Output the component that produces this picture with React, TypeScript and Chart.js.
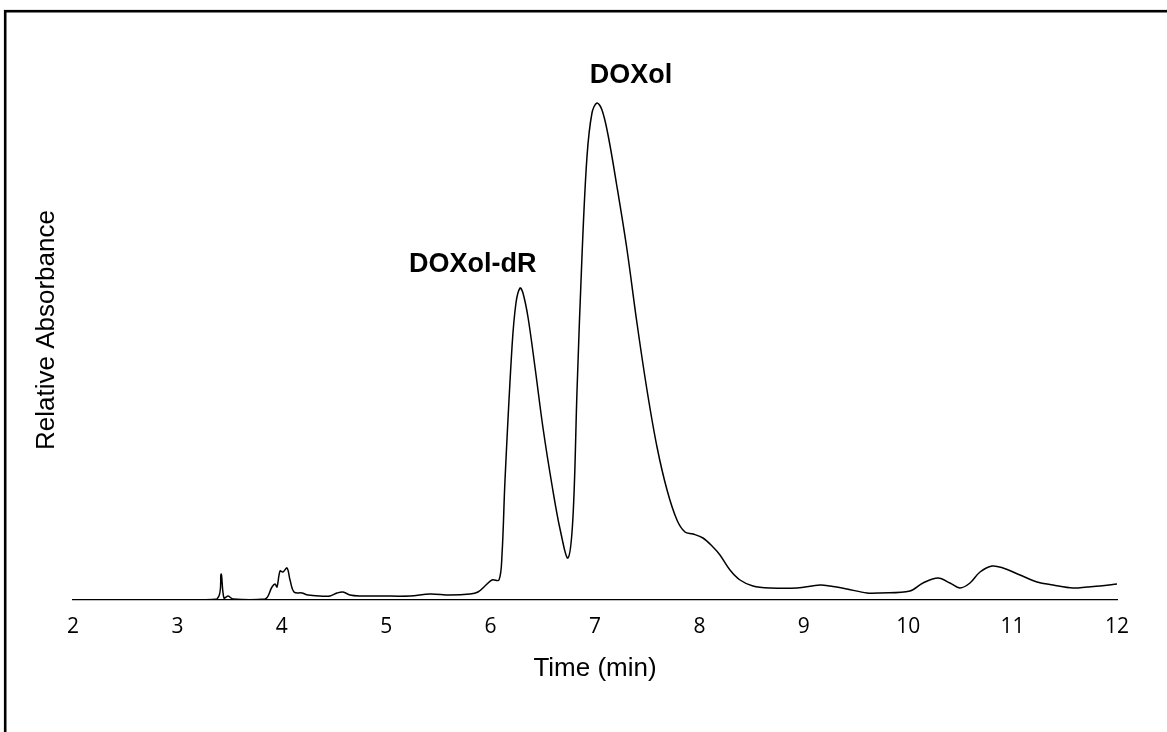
import React, { useEffect, useRef } from "react";
import { Chart, registerables } from "chart.js";

Chart.register(...registerables);

// Retention time (min)
const times: number[] = [
  2.0, 3.025, 3.379, 3.418, 3.446, 3.485, 3.533, 3.839, 3.906, 3.935, 3.954, 3.983,
  4.011, 4.05, 4.079, 4.117, 4.193, 4.251, 4.366, 4.462, 4.529, 4.586, 4.653, 4.749,
  4.941, 5.228, 5.42, 5.611, 5.803, 5.879, 5.946, 6.013, 6.08, 6.109, 6.138, 6.205,
  6.243, 6.282, 6.31, 6.358, 6.425, 6.502, 6.588, 6.665, 6.741, 6.789, 6.828, 6.875,
  6.923, 6.971, 7.019, 7.067, 7.125, 7.211, 7.307, 7.402, 7.498, 7.594, 7.69, 7.785,
  7.862, 7.939, 8.034, 8.13, 8.197, 8.293, 8.389, 8.513, 8.676, 8.935, 9.155, 9.251,
  9.414, 9.605, 9.73, 10.017, 10.142, 10.286, 10.4, 10.496, 10.592, 10.688, 10.803,
  10.908, 11.071, 11.234, 11.387, 11.579, 11.713, 11.837, 12.0,
];

// Relative absorbance (arbitrary units)
const absorbance: number[] = [
  0, 0, 1, 26, 2, 4, 1, 1, 13, 16, 13, 29,
  28, 32, 20, 8, 7, 5, 4, 4, 7, 8, 5, 4,
  4, 4, 6, 5, 6, 8, 14, 20, 20, 45, 120, 253,
  297, 312, 307, 283, 233, 172, 115, 71, 42, 83, 210, 343,
  443, 487, 497, 490, 465, 413, 350, 277, 210, 153, 110, 80,
  68, 66, 62, 53, 45, 30, 20, 14, 12, 12, 15, 14,
  11, 7, 7, 9, 17, 22, 17, 12, 17, 28, 34,
  32, 25, 18, 15, 12, 13, 14, 16,
];

const xTicks: number[] = [2, 3, 4, 5, 6, 7, 8, 9, 10, 11, 12];

const peakLabels: string[] = ["DOXol-dR", "DOXol"];
const peakLabelTimes: number[] = [5.83, 7.345];
const peakLabelValues: number[] = [328, 517];

const frameAndLabels = {
  id: "frameAndLabels",
  afterDraw(chart: any) {
    const { ctx, scales } = chart;
    ctx.save();
    ctx.strokeStyle = "#000";
    ctx.lineWidth = 2.6;
    ctx.strokeRect(5.2, 11.2, 1300, 900);
    ctx.fillStyle = "#000";
    ctx.font = "bold 27px 'Liberation Sans', Arial, sans-serif";
    ctx.textAlign = "center";
    ctx.textBaseline = "alphabetic";
    peakLabels.forEach((txt, i) => {
      const px = scales.x.getPixelForValue(peakLabelTimes[i]);
      const py = scales.y.getPixelForValue(peakLabelValues[i]);
      ctx.fillText(txt, px, py);
    });
    ctx.restore();
  },
};

export default function App() {
  const ref = useRef<HTMLCanvasElement | null>(null);

  useEffect(() => {
    document.body.style.margin = "0";
    const canvas = ref.current;
    if (!canvas) return;
    const chart = new Chart(canvas, {
      type: "line",
      data: {
        datasets: [
          {
            data: times.map((t, i) => ({ x: t, y: absorbance[i] })),
            borderColor: "#000",
            borderWidth: 1.5,
            pointRadius: 0,
            fill: false,
            tension: 0.35,
          },
        ],
      },
      options: {
        animation: false,
        responsive: false,
        maintainAspectRatio: false,
        layout: { padding: { left: 27, right: 50, top: 60, bottom: 44 } },
        plugins: { legend: { display: false }, tooltip: { enabled: false } },
        scales: {
          x: {
            type: "linear",
            min: 2,
            max: 12,
            afterBuildTicks: (scale: any) => {
              scale.ticks = xTicks.map((v) => ({ value: v }));
            },
            afterFit: (scale: any) => {
              scale.height = 88;
            },
            grid: { display: false, drawTicks: false },
            border: { display: true, color: "#000", width: 1.3 },
            ticks: {
              color: "#000",
              padding: 14,
              font: { family: "'Open Sans', sans-serif", size: 21 },
              callback: (v: any) => String(v),
            },
            title: {
              display: true,
              text: "Time (min)",
              color: "#000",
              padding: { top: 4, bottom: 4 },
              font: { family: "'Liberation Sans', Arial, sans-serif", size: 26 },
            },
          },
          y: {
            min: 0,
            max: 540,
            afterFit: (scale: any) => {
              scale.width = 46;
            },
            grid: { display: false, drawTicks: false },
            border: { display: false },
            ticks: { display: false },
            title: {
              display: true,
              text: "Relative Absorbance",
              color: "#000",
              padding: { top: 4, bottom: 4 },
              font: { family: "'Liberation Sans', Arial, sans-serif", size: 26 },
            },
          },
        },
      },
      plugins: [frameAndLabels],
    } as any);
    return () => chart.destroy();
  }, []);

  return (
    <div style={{ position: "absolute", left: 0, top: 0, width: 1167, height: 732, background: "#fff" }}>
      <canvas ref={ref} width={1167} height={732} style={{ display: "block", width: 1167, height: 732 }} />
    </div>
  );
}
